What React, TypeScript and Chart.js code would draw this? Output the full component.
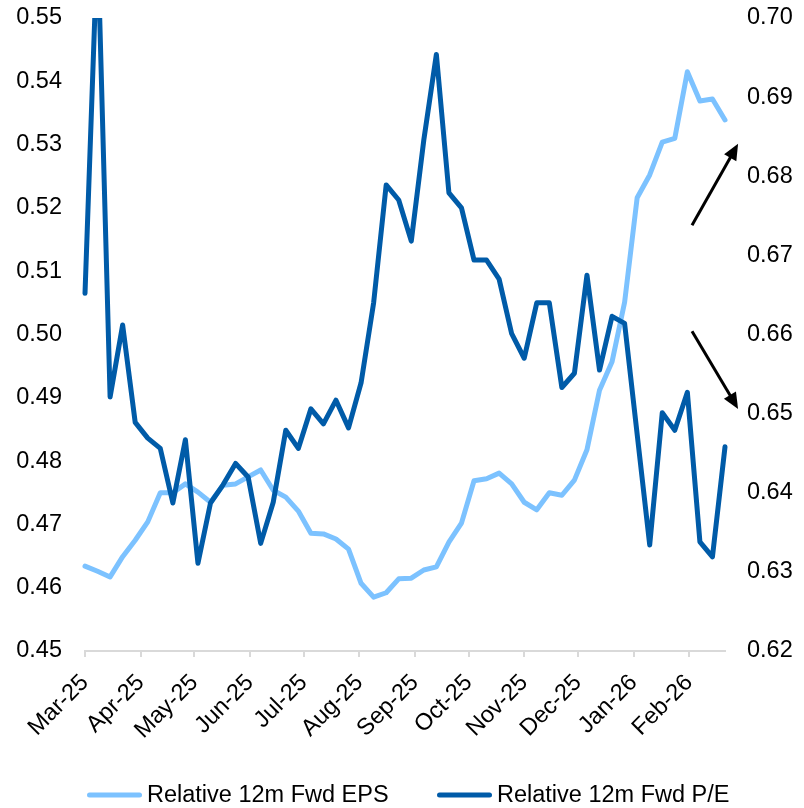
import React, { useEffect, useRef } from 'react';
import { Chart, registerables } from 'chart.js';

Chart.register(...registerables);

// Month tick labels and their day offsets from 1 Mar 2025
const monthLabels = ['Mar-25', 'Apr-25', 'May-25', 'Jun-25', 'Jul-25', 'Aug-25', 'Sep-25', 'Oct-25', 'Nov-25', 'Dec-25', 'Jan-26', 'Feb-26'];
const monthStartDays = [0, 31, 61, 92, 122, 153, 184, 214, 245, 275, 306, 337];

// Weekly observations (day offsets from 1 Mar 2025)
const weekDays = Array.from({ length: 52 }, (_, i) => i * 7);

const epsLabel = 'Relative 12m Fwd EPS';
const peLabel = 'Relative 12m Fwd P/E';

const epsValues = [
  0.4634, 0.4626, 0.4617, 0.4649, 0.4675, 0.4704, 0.4750, 0.4750, 0.4764, 0.4751,
  0.4735, 0.4762, 0.4764, 0.4775, 0.4786, 0.4754, 0.4743, 0.4721, 0.4686, 0.4685,
  0.4677, 0.4661, 0.4607, 0.4585, 0.4592, 0.4614, 0.4615, 0.4628, 0.4633, 0.4672,
  0.4702, 0.4769, 0.4772, 0.4781, 0.4764, 0.4735, 0.4723, 0.4750, 0.4746, 0.4770,
  0.4818, 0.4912, 0.4957, 0.5051, 0.5216, 0.5252, 0.5304, 0.5310, 0.5415, 0.5369,
  0.5372, 0.5339,
];

const peValues = [
  0.6652, 0.7100, 0.6521, 0.6612, 0.6489, 0.6469, 0.6456, 0.6387, 0.6467, 0.6311,
  0.6387, 0.6410, 0.6437, 0.6420, 0.6336, 0.6388, 0.6479, 0.6456, 0.6506, 0.6487,
  0.6517, 0.6482, 0.6539, 0.6640, 0.6789, 0.6770, 0.6718, 0.6846, 0.6954, 0.6779,
  0.6760, 0.6694, 0.6694, 0.6670, 0.6601, 0.6570, 0.6640, 0.6640, 0.6533, 0.6551,
  0.6675, 0.6555, 0.6623, 0.6614, 0.6474, 0.6334, 0.6501, 0.6479, 0.6527, 0.6338,
  0.6319, 0.6458,
];

// Arrow annotations in data coordinates (x: day offset, y: right axis)
const arrowUp = { from: [338.6, 0.6738], to: [364.3, 0.6841] };
const arrowDown = { from: [338.6, 0.6604], to: [364.3, 0.6506] };

const EPS_COLOR = '#7CC2FF';
const PE_COLOR = '#005BA8';
const AXIS_GREY = '#D9D9D9';
const FONT = '"Liberation Sans", Arial, sans-serif';
const FONT_SIZE = 23.5;

const annotationPlugin = {
  id: 'arrowsAndLegend',
  afterDraw(chart: any) {
    const ctx = chart.ctx as CanvasRenderingContext2D;
    const xs = chart.scales.x;
    const ys = chart.scales.y1;
    const drawArrow = (a: { from: number[]; to: number[] }) => {
      const x1 = xs.getPixelForValue(a.from[0]);
      const y1 = ys.getPixelForValue(a.from[1]);
      const x2 = xs.getPixelForValue(a.to[0]);
      const y2 = ys.getPixelForValue(a.to[1]);
      const ang = Math.atan2(y2 - y1, x2 - x1);
      const headLen = 16;
      const headHalf = 7;
      const bx = x2 - headLen * Math.cos(ang);
      const by = y2 - headLen * Math.sin(ang);
      ctx.save();
      ctx.strokeStyle = '#000';
      ctx.fillStyle = '#000';
      ctx.lineWidth = 3;
      ctx.lineCap = 'butt';
      ctx.beginPath();
      ctx.moveTo(x1, y1);
      ctx.lineTo(bx + 2 * Math.cos(ang), by + 2 * Math.sin(ang));
      ctx.stroke();
      ctx.beginPath();
      ctx.moveTo(x2, y2);
      ctx.lineTo(bx + headHalf * Math.sin(ang), by - headHalf * Math.cos(ang));
      ctx.lineTo(bx - headHalf * Math.sin(ang), by + headHalf * Math.cos(ang));
      ctx.closePath();
      ctx.fill();
      ctx.restore();
    };
    drawArrow(arrowUp);
    drawArrow(arrowDown);

    // legend
    const items = [
      { label: chart.data.datasets[0].label, color: chart.data.datasets[0].borderColor, x: 89.5 },
      { label: chart.data.datasets[1].label, color: chart.data.datasets[1].borderColor, x: 439.5 },
    ];
    const ly = 795;
    ctx.save();
    items.forEach((it) => {
      ctx.strokeStyle = it.color;
      ctx.lineWidth = 5;
      ctx.lineCap = 'round';
      ctx.beginPath();
      ctx.moveTo(it.x, ly);
      ctx.lineTo(it.x + 50, ly);
      ctx.stroke();
      ctx.fillStyle = '#000';
      ctx.font = `${FONT_SIZE}px ${FONT}`;
      ctx.textBaseline = 'middle';
      ctx.textAlign = 'left';
      ctx.fillText(it.label, it.x + 57.5, ly + 1);
    });
    ctx.restore();
  },
};

const fixVertical = (w: number) => (scale: any) => {
  scale.width = w;
  scale.paddingTop = 0;
  scale.paddingBottom = 0;
};

export default function App() {
  const canvasRef = useRef<HTMLCanvasElement | null>(null);

  useEffect(() => {
    if (!canvasRef.current) return;
    Chart.defaults.font.family = FONT;
    Chart.defaults.font.size = FONT_SIZE;
    Chart.defaults.color = '#000';

    const chart = new Chart(canvasRef.current, {
      type: 'line',
      data: {
        datasets: [
          {
            label: epsLabel,
            data: weekDays.map((d, i) => ({ x: d, y: epsValues[i] })),
            borderColor: EPS_COLOR,
            backgroundColor: EPS_COLOR,
            borderWidth: 5,
            pointRadius: 0,
            tension: 0,
            yAxisID: 'y',
            order: 2,
            borderJoinStyle: 'round',
            borderCapStyle: 'round',
            clip: { left: 5, right: 5, top: 0, bottom: 5 },
          },
          {
            label: peLabel,
            data: weekDays.map((d, i) => ({ x: d, y: peValues[i] })),
            borderColor: PE_COLOR,
            backgroundColor: PE_COLOR,
            borderWidth: 5,
            pointRadius: 0,
            tension: 0,
            yAxisID: 'y1',
            order: 1,
            borderJoinStyle: 'round',
            borderCapStyle: 'round',
            clip: { left: 5, right: 5, top: 0, bottom: 5 },
          },
        ],
      },
      options: {
        animation: false,
        responsive: false,
        maintainAspectRatio: false,
        layout: { padding: { top: 18, left: 0, right: 0, bottom: 0 } },
        plugins: {
          legend: { display: false },
          tooltip: { enabled: false },
        },
        scales: {
          x: {
            type: 'linear',
            position: 'bottom',
            min: weekDays[0],
            max: weekDays[weekDays.length - 1],
            afterBuildTicks: (scale: any) => {
              scale.ticks = monthStartDays.map((v) => ({ value: v }));
            },
            afterFit: (scale: any) => {
              scale.height = 157;
              scale.paddingLeft = 0;
              scale.paddingRight = 0;
            },
            ticks: {
              autoSkip: false,
              minRotation: 45,
              maxRotation: 45,
              padding: 12,
              color: '#000',
              font: { size: FONT_SIZE, family: FONT },
              callback: (_v: any, i: number) => monthLabels[i],
            },
            grid: {
              display: true,
              drawOnChartArea: false,
              drawTicks: true,
              tickLength: 6,
              color: AXIS_GREY,
              lineWidth: 2,
            },
            border: { display: true, color: AXIS_GREY, width: 2 },
          },
          y: {
            type: 'linear',
            position: 'left',
            min: 0.45,
            max: 0.55,
            afterFit: fixVertical(85),
            ticks: {
              stepSize: 0.01,
              padding: 23,
              color: '#000',
              font: { size: FONT_SIZE, family: FONT },
              callback: (v: any) => Number(v).toFixed(2),
            },
            grid: { display: false, drawTicks: false },
            border: { display: false },
          },
          y1: {
            type: 'linear',
            position: 'right',
            min: 0.62,
            max: 0.70,
            afterFit: fixVertical(79),
            ticks: {
              stepSize: 0.01,
              padding: 22,
              color: '#000',
              font: { size: FONT_SIZE, family: FONT },
              callback: (v: any) => Number(v).toFixed(2),
            },
            grid: { display: false, drawTicks: false },
            border: { display: false },
          },
        },
      },
      plugins: [annotationPlugin],
    } as any);

    return () => {
      chart.destroy();
    };
  }, []);

  return (
    <div style={{ position: 'fixed', left: 0, top: 0, width: 804, height: 808, background: '#fff' }}>
      <canvas ref={canvasRef} width={804} height={808} style={{ display: 'block' }} />
    </div>
  );
}
